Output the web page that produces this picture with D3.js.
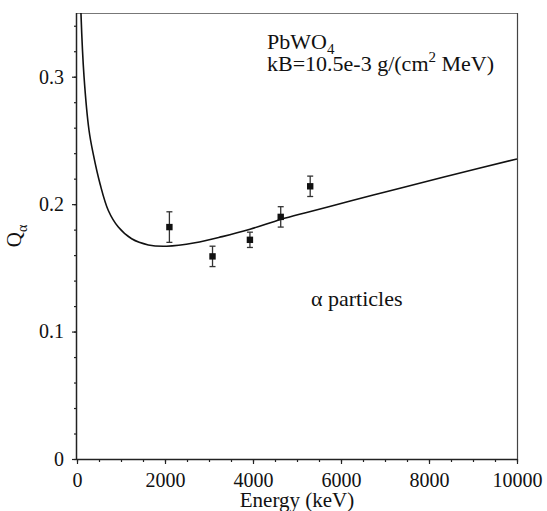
<!DOCTYPE html>
<html><head><meta charset="utf-8">
<script src="https://cdn.jsdelivr.net/npm/d3@7/dist/d3.min.js"></script>
<style>body{margin:0;background:#fff}svg{display:block}svg text{font-family:"Liberation Serif","Times New Roman",Times,"DejaVu Serif",serif !important;fill:#111}</style>
</head><body>
<svg id="c" width="547" height="511"></svg>
<script>
// Measured data points (Energy keV, Q_alpha, error)
const pointE = [2100, 3080, 3930, 4630, 5300];
const pointQ = [0.182, 0.159, 0.172, 0.190, 0.214];
const pointErr = [0.012, 0.008, 0.006, 0.008, 0.008];
// Birks curve
const curveE = [60, 91, 160, 273, 371, 523, 712, 939, 1242, 1621, 2038, 2682, 3300, 3932, 4629, 5220, 5977, 6734, 7341, 8500, 10000];
const curveQ = [0.40, 0.349, 0.30, 0.258, 0.239, 0.216, 0.195, 0.182, 0.1728, 0.168, 0.167, 0.1697, 0.1745, 0.1803, 0.188, 0.1935, 0.2003, 0.2071, 0.2125, 0.2227, 0.2355];
const xTicks = [0, 2000, 4000, 6000, 8000, 10000];
const yTicks = [0, 0.1, 0.2, 0.3];
const yTickLabels = ["0", "0.1", "0.2", "0.3"];

const FONT = '"Liberation Serif","Times New Roman",Times,serif';
const svg = d3.select("#c");
const L = 77, R = 517, T = 13, B = 459;
const x = d3.scaleLinear().domain([0, 10000]).range([L, R]);
const y = d3.scaleLinear().domain([0, 0.35]).range([B, T]);

svg.append("clipPath").attr("id", "clip").append("rect")
  .attr("x", L).attr("y", T).attr("width", R - L).attr("height", B - T);

// frame top/right
svg.append("line").attr("x1", L).attr("x2", R).attr("y1", T + 0.5).attr("y2", T + 0.5).attr("stroke", "#777").attr("stroke-width", 1.2);
svg.append("line").attr("x1", R + 0.5).attr("x2", R + 0.5).attr("y1", T).attr("y2", B).attr("stroke", "#444").attr("stroke-width", 1.2);

// x axis
const xMinor = d3.range(0, 10001, 500);
const xg = svg.append("g").attr("transform", `translate(0,${B})`);
xg.call(d3.axisBottom(x).tickValues(xMinor).tickSize(3).tickFormat(""));
xg.call(g => g.selectAll(".domain").remove());
const xg2 = svg.append("g").attr("transform", `translate(0,${B})`).attr("font-family", FONT);
xg2.call(d3.axisBottom(x).tickValues(xTicks).tickSize(5).tickPadding(9).tickFormat(d3.format("d")));
xg2.attr("font-family", FONT).attr("font-size", 20);
xg2.selectAll("text").attr("fill", "#111");
xg2.select(".domain").attr("d", `M${L},0.5H${R}`).attr("stroke", "#222").attr("stroke-width", 1.5);

// y axis
const yMinor = d3.range(0, 0.351, 0.02);
const yg = svg.append("g").attr("transform", `translate(${L},0)`);
yg.call(d3.axisLeft(y).tickValues(yMinor).tickSize(3).tickFormat(""));
yg.call(g => g.selectAll(".domain").remove());
const yg2 = svg.append("g").attr("transform", `translate(${L},0)`);
yg2.call(d3.axisLeft(y).tickValues(yTicks).tickSize(5).tickPadding(8).tickFormat((d, i) => yTickLabels[i]));
yg2.attr("font-family", FONT).attr("font-size", 20);
yg2.selectAll("text").attr("fill", "#111");
yg2.select(".domain").attr("d", `M-0.5,${B}V${T}`).attr("stroke", "#222").attr("stroke-width", 1.5);
svg.selectAll(".tick line").attr("stroke", "#222").attr("stroke-width", 1.2);

// curve
const line = d3.line().x((d, i) => x(curveE[i])).y(d => y(d)).curve(d3.curveCatmullRom.alpha(0.5));
svg.append("path").attr("d", line(curveQ)).attr("fill", "none").attr("stroke", "#111")
  .attr("stroke-width", 1.6).attr("clip-path", "url(#clip)");

// error bars + points
const pts = svg.append("g");
pointE.forEach((e, i) => {
  const cx = x(e), q = pointQ[i], er = pointErr[i];
  pts.append("line").attr("x1", cx).attr("x2", cx).attr("y1", y(q + er)).attr("y2", y(q - er)).attr("stroke", "#333").attr("stroke-width", 1.3);
  [q + er, q - er].forEach(v => pts.append("line").attr("x1", cx - 3).attr("x2", cx + 3).attr("y1", y(v)).attr("y2", y(v)).attr("stroke", "#333").attr("stroke-width", 1.3));
  pts.append("rect").attr("x", cx - 3.2).attr("y", y(q) - 3.2).attr("width", 6.4).attr("height", 6.4).attr("fill", "#111");
});

// axis titles
svg.append("text").attr("x", (L + R) / 2).attr("y", 507).attr("text-anchor", "middle").attr("font-size", 21).attr("font-family", FONT).text("Energy (keV)");
const yt = svg.append("text").attr("transform", "translate(21,236) rotate(-90)").attr("text-anchor", "middle").attr("font-size", 21).attr("font-family", FONT);
yt.append("tspan").text("Q");
yt.append("tspan").attr("dy", 6).attr("font-size", 14).text("α");

// annotations
const a1 = svg.append("text").attr("x", 267).attr("y", 49).attr("font-size", 22).attr("font-family", FONT);
a1.append("tspan").text("PbWO");
a1.append("tspan").attr("dy", 5).attr("font-size", 15).text("4");
const a2 = svg.append("text").attr("x", 267).attr("y", 71).attr("font-size", 22).attr("font-family", FONT);
a2.append("tspan").text("kB=10.5e-3 g/(cm");
a2.append("tspan").attr("dy", -9).attr("font-size", 15).text("2");
a2.append("tspan").attr("dy", 9).text(" MeV)");
svg.append("text").attr("x", 311).attr("y", 306).attr("font-size", 22).attr("font-family", FONT).text("α particles");
</script>
</body></html>
